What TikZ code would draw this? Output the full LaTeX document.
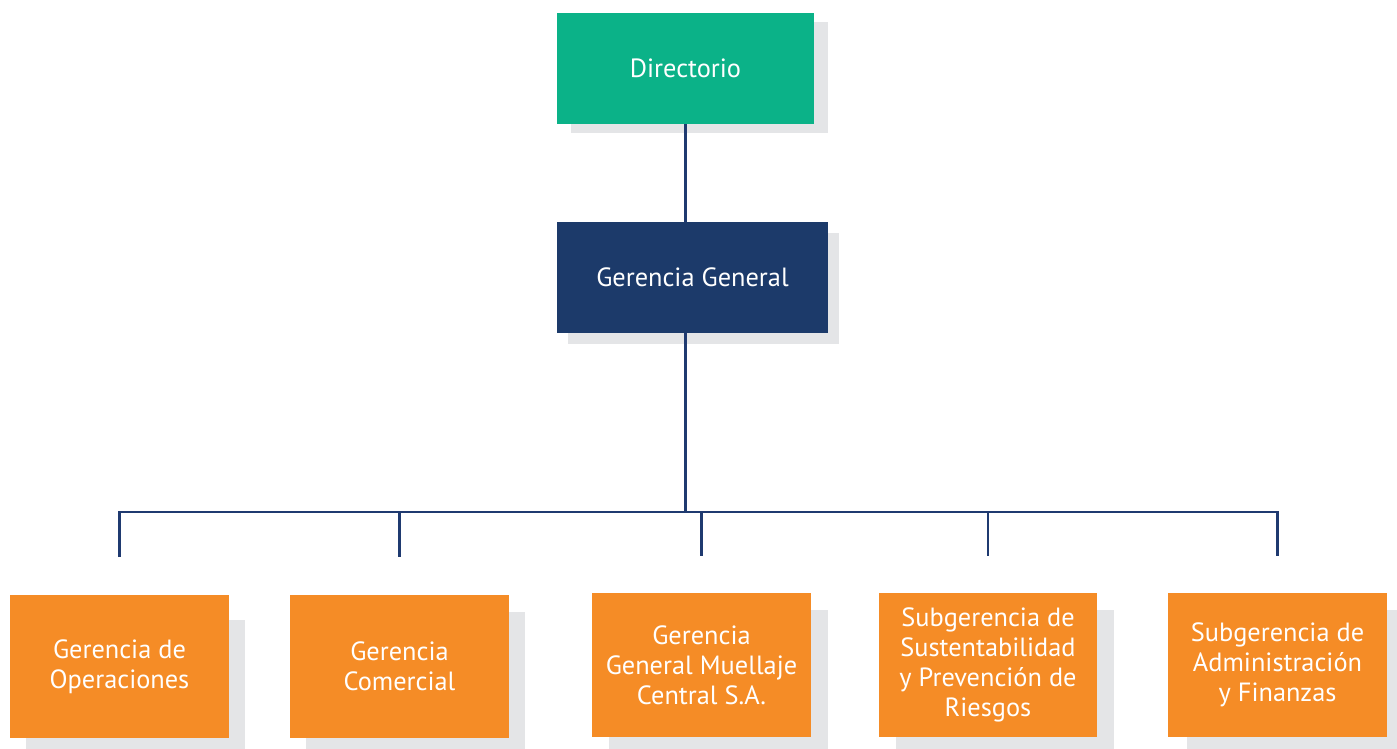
\documentclass[tikz,border=0pt]{standalone}
\usepackage{fontspec}
\setmainfont{PT Sans}
\usetikzlibrary{shadows}
\definecolor{dirgreen}{HTML}{0BB288}
\definecolor{gennavy}{HTML}{1C3A6A}
\definecolor{deporange}{HTML}{F58C26}
\definecolor{shadegray}{HTML}{E4E5E7}
\definecolor{linenavy}{HTML}{1F3A70}
\begin{document}
\begin{tikzpicture}[x=0.02cm,y=0.02cm]
    \tikzstyle{every node}+=[inner sep=0pt, text=white, align=center, font=\fontsize{15}{17}\selectfont]
    \tikzstyle{box}=[rectangle, minimum width=4.38cm, minimum height=2.88cm]
    \tikzstyle{graybehind}=[drop shadow={shadow xshift=#1, shadow yshift=-0.34cm, fill=shadegray, opacity=1}]
    \tikzstyle{link}=[linenavy, line width=0.045cm]
    \useasboundingbox (0,0) rectangle (1397,-748);
    % top of the chart
    \node [box, fill=dirgreen, minimum width=5.14cm, minimum height=2.22cm,
        drop shadow={shadow xshift=0.28cm, shadow yshift=-0.18cm, fill=shadegray, opacity=1}]
        (dir) at (685.5,-68.5) {Directorio};
    \node [box, fill=gennavy, minimum width=5.42cm, minimum height=2.22cm,
        drop shadow={shadow xshift=0.22cm, shadow yshift=-0.22cm, fill=shadegray, opacity=1}]
        (gg) at (692.5,-277.5) {Gerencia General};
    % departments
    \node [box, fill=deporange, drop shadow={shadow xshift=0.32cm, shadow yshift=-0.5cm, fill=shadegray, opacity=1}]
        (op) at (119.5,-666.5) {Gerencia de\\Operaciones};
    \node [box, fill=deporange, graybehind=0.32cm] (com) at (399.5,-666.5) {Gerencia\\Comercial};
    \node [box, fill=deporange, graybehind=0.34cm] (gmc) at (701.5,-665) {Gerencia\\General Muellaje\\Central S.A.};
    \node [box, fill=deporange, graybehind=0.34cm] (sus) at (988,-665) {Subgerencia de\\Sustentabilidad\\y Prevención de\\Riesgos};
    \node [box, fill=deporange, graybehind=0.38cm] (adm) at (1277.5,-665) {Subgerencia de\\Administración\\y Finanzas};
    % connectors
    \coordinate (bus) at (685.5,-512);
    \draw [link] (dir.south) -- (dir.south |- gg.north);
    \draw [link] (gg.south -| bus) -- (bus);
    \draw [link] ([yshift=0.74cm]op.north) -- (op.north |- bus) -- (adm.north |- bus) -- ([yshift=0.74cm]adm.north);
    \foreach \n in {com,gmc,sus}
        \draw [link] (\n.north |- bus) -- ([yshift=0.74cm]\n.north);
\end{tikzpicture}
\end{document}
